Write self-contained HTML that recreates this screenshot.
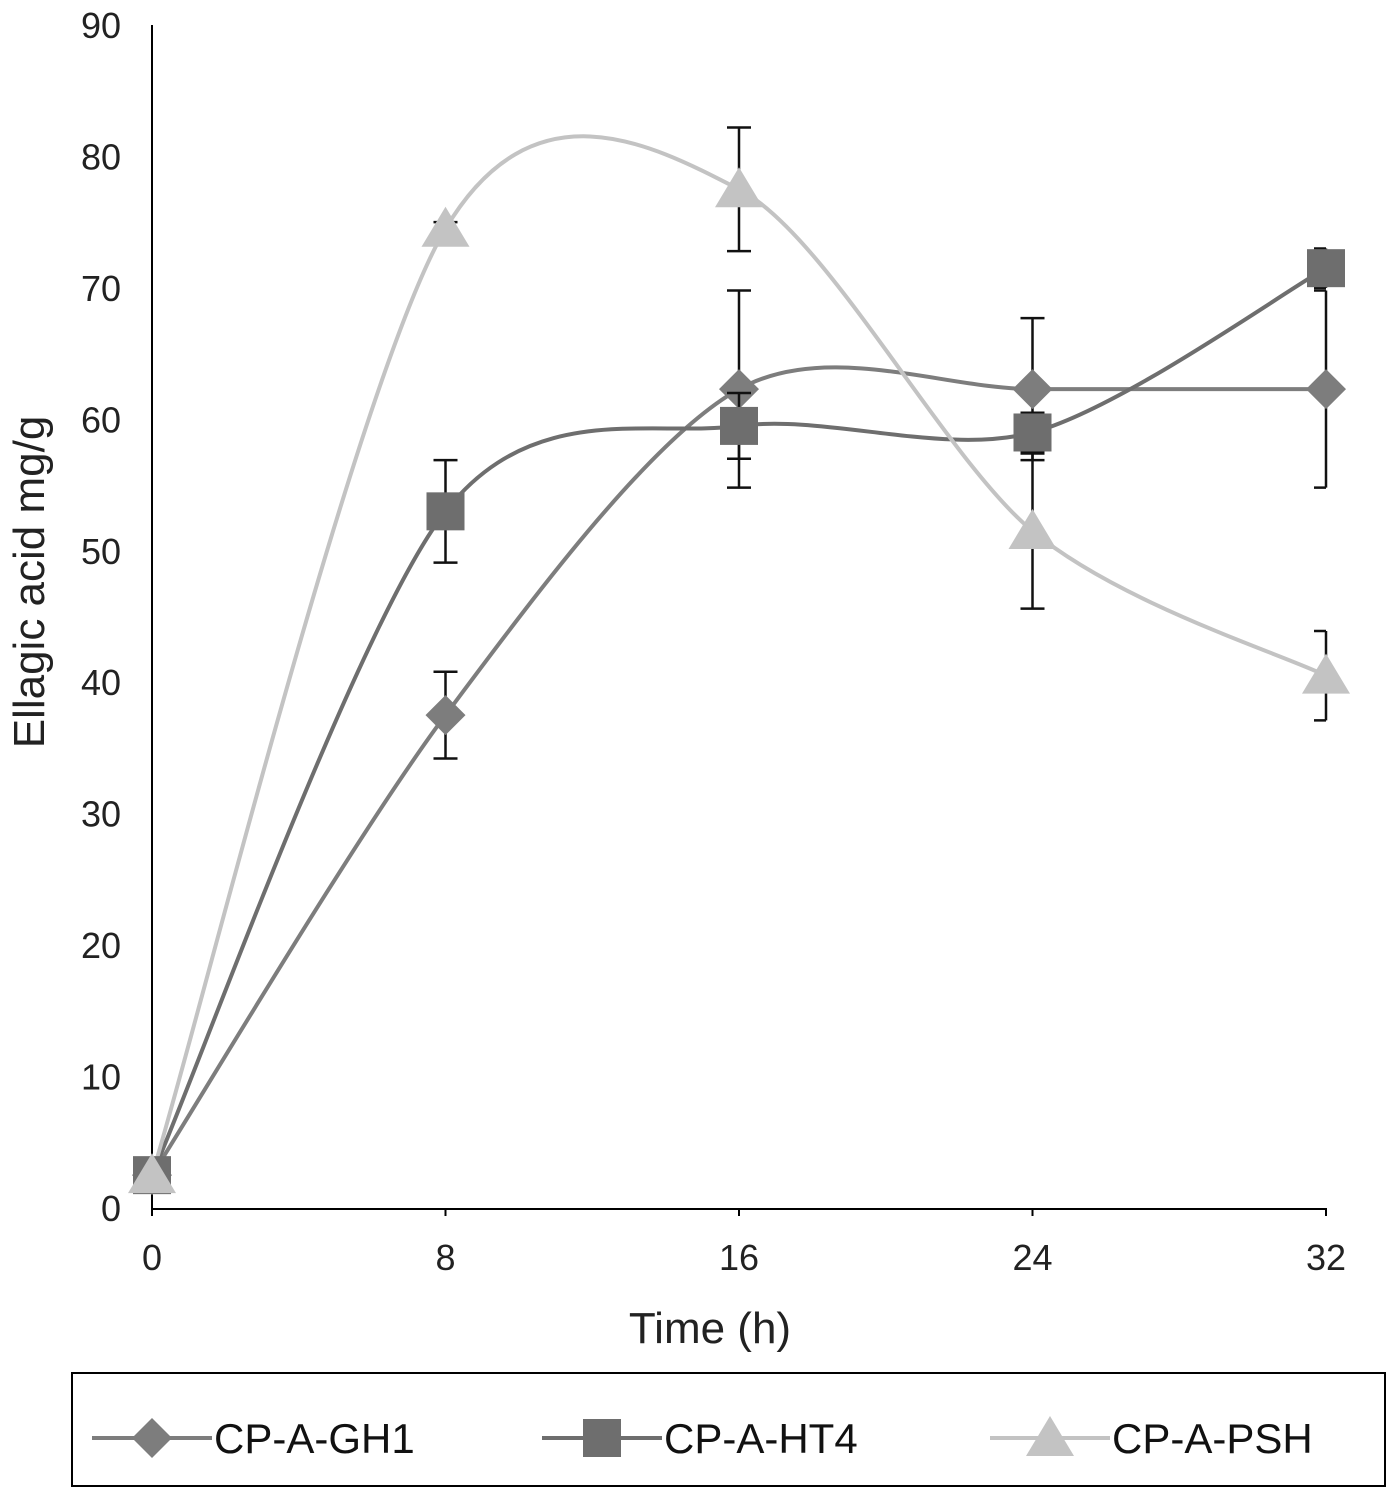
<!DOCTYPE html>
<html><head><meta charset="utf-8"><style>
body{margin:0;background:#fff}
svg{display:block;font-family:"Liberation Sans",Arial,sans-serif}
</style></head><body>
<svg id="chart" width="1388" height="1488" viewBox="0 0 1388 1488">
<g id="axes"></g><g id="series"></g><g id="legend"></g>
</svg>
<script>
const times=[0,8,16,24,32];
const yTicks=[0,10,20,30,40,50,60,70,80,90];
const seriesNames=["CP-A-GH1","CP-A-HT4","CP-A-PSH"];
const gh1=[2.5,37.5,62.3,62.3,62.3];
const ht4=[2.5,53,59.5,59,71.5];
const psh=[2.5,74.5,77.5,51.5,40.5];
const gh1Err=[0,3.3,7.5,5.4,7.5];
const ht4Err=[0,3.9,2.5,1.5,1.5];
const pshErr=[0,0.5,4.7,5.9,3.4];
const NS="http://www.w3.org/2000/svg";
const X0=152,X1=1326,Y0=1208,Y1=25;
const xs=v=>X0+(v-0)/(32-0)*(X1-X0);
const ys=v=>Y0-(v/90)*(Y0-Y1);
function mk(t,a,p){const e=document.createElementNS(NS,t);for(const k in a)e.setAttribute(k,a[k]);(p||document.getElementById('series')).appendChild(e);return e;}
const ax=document.getElementById('axes');
let e=mk('line',{x1:X0,y1:Y1,x2:X0,y2:Y0+2,stroke:'#000','stroke-width':2},ax);


e=mk('line',{x1:X0,y1:Y0+1,x2:X1,y2:Y0+1,stroke:'#000','stroke-width':2},ax);


yTicks.forEach(t=>{const l=mk('text',{x:121,y:ys(t)+13,'text-anchor':'end','font-size':36,fill:'#222'},ax);l.textContent=t;

});
times.forEach(t=>{mk('line',{x1:xs(t),y1:Y0,x2:xs(t),y2:Y0+8,stroke:'#000','stroke-width':2},ax);
const l=mk('text',{x:xs(t),y:1270,'text-anchor':'middle','font-size':36,fill:'#222'},ax);l.textContent=t;

});
e=mk('text',{x:710,y:1343,'text-anchor':'middle','font-size':44,fill:'#222'},ax);e.textContent='Time (h)';


e=mk('text',{x:0,y:0,'text-anchor':'middle','font-size':44,fill:'#222',transform:'translate(44,582) rotate(-90)'},ax);e.textContent='Ellagic acid mg/g';


function smooth(pts){let d=`M${pts[0][0]},${pts[0][1]}`;const t=0.3;
for(let i=0;i<pts.length-1;i++){const p0=pts[i-1]||pts[i],p1=pts[i],p2=pts[i+1],p3=pts[i+2]||p2;
const c1=[p1[0]+(p2[0]-p0[0])*t/2,p1[1]+(p2[1]-p0[1])*t/2],c2=[p2[0]-(p3[0]-p1[0])*t/2,p2[1]-(p3[1]-p1[1])*t/2];
d+=` C${c1[0]},${c1[1]} ${c2[0]},${c2[1]} ${p2[0]},${p2[1]}`;}return d;}
function marker(type,x,y,c,p,s){s=s||1;
if(type==='d')return mk('polygon',{points:`${x},${y-20*s} ${x+20*s},${y} ${x},${y+20*s} ${x-20*s},${y}`,fill:c},p);
if(type==='s')return mk('rect',{x:x-19*s,y:y-19*s,width:38*s,height:38*s,fill:c},p);
return mk('polygon',{points:`${x},${y-22*s} ${x+24*s},${y+18*s} ${x-24*s},${y+18*s}`,fill:c},p);}
const defs=[[gh1,gh1Err,'#7d7d7d','d'],[ht4,ht4Err,'#6e6e6e','s'],[psh,pshErr,'#c3c3c3','t']];
const sg=document.getElementById('series');
defs.forEach(([vals,err,c,m],k)=>{
const pts=vals.map((v,i)=>[xs(times[i]),ys(v)]);
const p=mk('path',{d:smooth(pts),fill:'none',stroke:c,'stroke-width':4},sg);

});
defs.forEach(([vals,err,c,m],k)=>{
vals.forEach((v,i)=>{if(err[i]>0){const x=xs(times[i]);const xl=x-12,xr=Math.min(x+12,X1);
mk('path',{d:`M${x},${ys(v+err[i])}V${ys(v-err[i])}M${xl},${ys(v+err[i])}H${xr}M${xl},${ys(v-err[i])}H${xr}`,stroke:'#111','stroke-width':2.5,fill:'none'},sg);}
const mm=marker(m,xs(times[i]),ys(v),c,sg);

});});
const lg=document.getElementById('legend');
e=mk('rect',{x:72,y:1373,width:1313,height:113,fill:'none',stroke:'#000','stroke-width':2},lg);


const lx=[92,542,990];
defs.forEach(([v,er,c,m],k)=>{const g=mk('g',{},lg);


mk('line',{x1:lx[k],y1:1438,x2:lx[k]+120,y2:1438,stroke:c,'stroke-width':4},g);
marker(m,lx[k]+60,1438,c,g);
const t=mk('text',{x:lx[k]+122,y:1453,'font-size':42,fill:'#111'},g);t.textContent=seriesNames[k];});
</script>
</body></html>
